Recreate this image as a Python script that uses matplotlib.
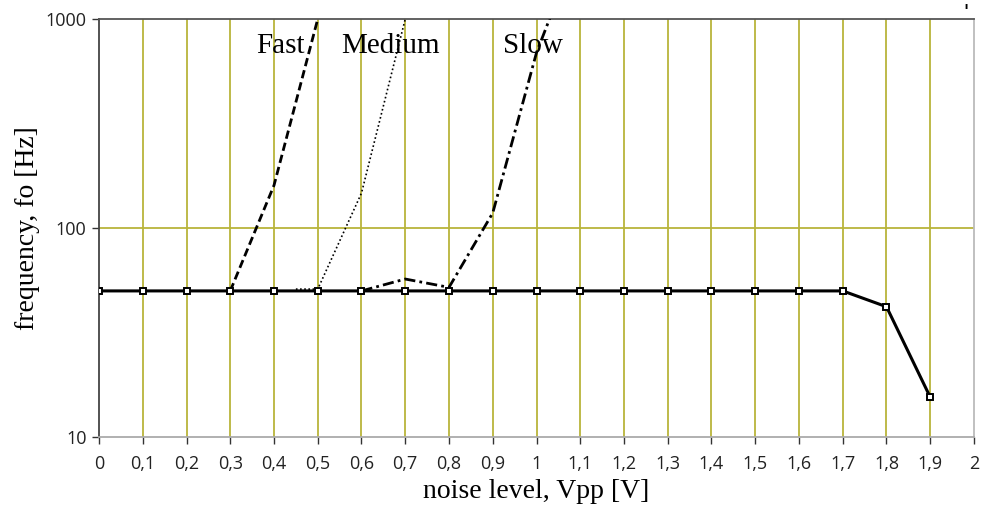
import numpy as np
import matplotlib
matplotlib.use("Agg")
from matplotlib import pyplot as plt
from matplotlib.ticker import FixedLocator, NullLocator

# main curve: fundamental frequency vs noise level
noise = [0.0, 0.1, 0.2, 0.3, 0.4, 0.5, 0.6, 0.7, 0.8, 0.9,
         1.0, 1.1, 1.2, 1.3, 1.4, 1.5, 1.6, 1.7, 1.8, 1.9]
freq = [50, 50, 50, 50, 50, 50, 50, 50, 50, 50,
        50, 50, 50, 50, 50, 50, 50, 50, 42, 15.5]

# filter variants
fast_x = [0.3, 0.4, 0.5]
fast_y = [50, 160, 1000]
medium_x = [0.45, 0.5, 0.6, 0.7]
medium_y = [51, 51, 147, 1000]
slow_x = [0.6, 0.7, 0.8, 0.9, 1.0, 1.1]
slow_y = [50, 57, 52, 118, 690, 2400]

xticks = [i / 10 for i in range(21)]
xticklabels = [("%g" % t).replace(".", ",") for t in xticks]

grid_col = "#b9b43a"
serif = "Liberation Serif"
sans = "Open Sans"

fig = plt.figure(figsize=(9.95, 5.08), dpi=100)
ax = fig.add_axes([99 / 995, 1 - 437 / 508, 875 / 995, 418 / 508])

ax.set_yscale("log")
ax.set_xlim(0, 2)
ax.set_ylim(10, 1000)

for x in xticks[1:-1]:
    ax.axvline(x, color=grid_col, lw=1.3, zorder=1)
ax.axhline(100, color=grid_col, lw=1.3, zorder=1)

ax.plot(fast_x, fast_y, color="black", lw=2, ls=(0, (3, 1.5)), zorder=3)
ax.plot(medium_x, medium_y, color="black", lw=1.2, ls=(0, (1, 1.5)), zorder=3)
ax.plot(slow_x, slow_y, color="black", lw=2, ls=(0, (4, 1.5, 1, 1.5)), zorder=3)
ax.plot(noise, freq, color="black", lw=2.2, marker="s", ms=4.3,
        mfc="white", mec="black", mew=1.4, zorder=4)

ax.text(0.414, 740, "Fast", family=serif, fontsize=21, ha="center", va="center")
ax.text(0.667, 740, "Medium", family=serif, fontsize=21, ha="center", va="center")
ax.text(0.992, 740, "Slow", family=serif, fontsize=21, ha="center", va="center")

ax.xaxis.set_major_locator(FixedLocator(xticks))
ax.set_xticklabels(xticklabels)
ax.yaxis.set_major_locator(FixedLocator([10, 100, 1000]))
ax.yaxis.set_minor_locator(NullLocator())
ax.set_yticklabels(["10", "100", "1000"])
ax.tick_params(axis="both", direction="out", length=5, width=1, color="#333",
               labelsize=13, labelcolor="#222")
ax.tick_params(axis="x", pad=8)
ax.tick_params(axis="y", pad=4)
for lab in ax.get_xticklabels() + ax.get_yticklabels():
    lab.set_family(sans)

ax.spines["left"].set_color("#444")
ax.spines["top"].set_color("#555")
ax.spines["right"].set_color("#bbb")
ax.spines["bottom"].set_color("#aaa")
for s in ax.spines.values():
    s.set_linewidth(1.3)

ax.set_xlabel("noise level, Vpp [V]", family=serif, fontsize=20, labelpad=4)
ax.set_ylabel("frequency, fo [Hz]", family=serif, fontsize=20, labelpad=4)

fig.text(966 / 995, 1 - 12 / 508, "'", fontsize=12, fontweight="bold",
         ha="center", va="center")

fig.savefig("out.png", dpi=100)
